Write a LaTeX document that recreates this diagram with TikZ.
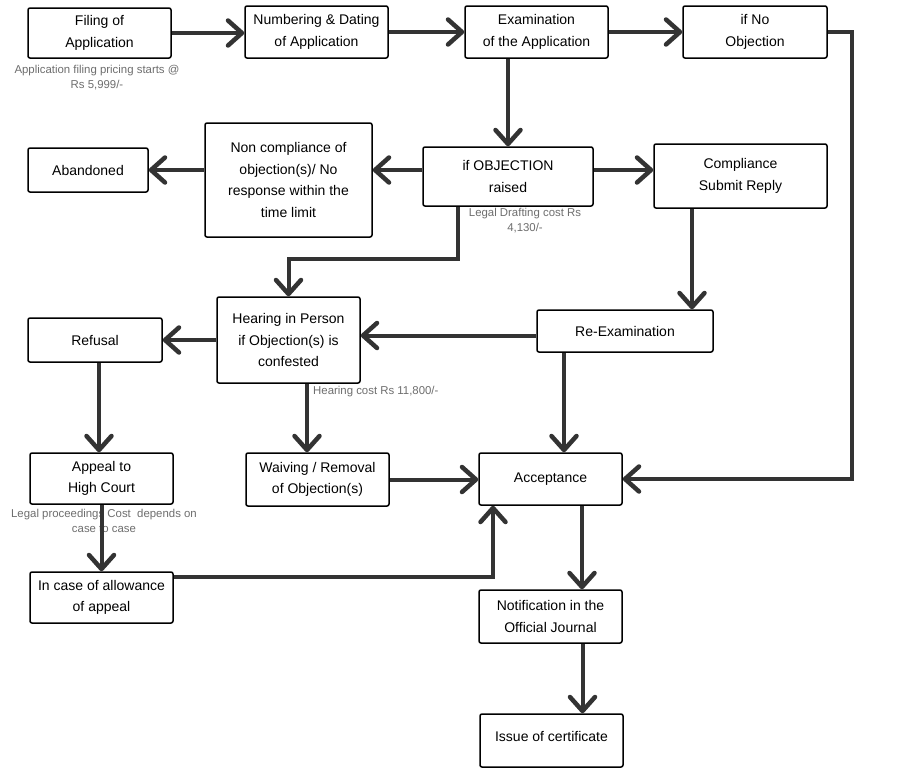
\documentclass[tikz,border=0pt]{standalone}
\usepackage{fontspec}
\setmainfont{Liberation Sans}
\usetikzlibrary{arrows.meta}
\definecolor{arrcol}{HTML}{333333}
\definecolor{notecol}{HTML}{6E6E6E}
\begin{document}
\begin{tikzpicture}[x=1pt,y=-1pt,
  box/.style={draw=black, line width=1.5pt, rounded corners=2pt, fill=white, align=center,
    inner sep=0pt, font=\fontsize{14}{21.5}\selectfont},
  note/.style={text=notecol, align=center, inner sep=0pt, font=\fontsize{11.4}{15}\selectfont},
  arr/.style={draw=arrcol, line width=4pt, -{Straight Barb[length=14pt,width=25pt,line width=4.5pt,round]}},
  ln/.style={draw=arrcol, line width=4pt}]
\useasboundingbox[fill=white] (0,0) rectangle (900,774);

% boxes
\node[box, minimum width=143, minimum height=50] (filing) at (99.5,33) {Filing of\\Application};
\node[box, minimum width=143, minimum height=52] (number) at (316.5,32) {Numbering \& Dating\\of Application};
\node[box, minimum width=143, minimum height=52] (exam) at (536.5,32) {Examination\\of the Application};
\node[box, minimum width=144, minimum height=52] (noobj) at (755,32) {if No\\Objection};
\node[box, minimum width=120, minimum height=44] (aband) at (88,170) {Abandoned};
\node[box, minimum width=167, minimum height=114] (noncomp) at (288.5,180) {Non compliance of\\objection(s)/ No\\response within the\\time limit};
\node[box, minimum width=170, minimum height=59] (objection) at (508,176.5) {if OBJECTION\\raised};
\node[box, minimum width=173, minimum height=64] (comply) at (740.5,176) {Compliance\\Submit Reply};
\node[box, minimum width=143, minimum height=86] (hearing) at (288.5,340) {Hearing in Person\\if Objection(s) is\\confested};
\node[box, minimum width=134, minimum height=44] (refusal) at (95,340) {Refusal};
\node[box, minimum width=176, minimum height=42] (reexam) at (625,331) {Re-Examination};
\node[box, minimum width=143, minimum height=52] (accept) at (550.5,479) {Acceptance};
\node[box, minimum width=143, minimum height=51] (appeal) at (101.5,478.5) {Appeal to\\High Court};
\node[box, minimum width=143, minimum height=53] (waiving) at (317.5,479.5) {Waiving / Removal\\of Objection(s)};
\node[box, minimum width=143, minimum height=51] (allow) at (101.5,597.5) {In case of allowance\\of appeal};
\node[box, minimum width=143, minimum height=53] (notif) at (550.5,616.5) {Notification in the\\Official Journal};
\node[box, minimum width=143, minimum height=53] (issue) at (551.5,740.5) {};
\node[font=\fontsize{14}{21.5}\selectfont, inner sep=0pt] (issuetxt) at (551.5,736) {Issue of certificate};

% notes
\node[note] (n1) at (97,77.5) {Application filing pricing starts @\\Rs 5,999/-};
\node[note] (n2) at (525,220.5) {Legal Drafting cost Rs\\4,130/-};
\node[note, anchor=west] (n3) at (313,392) {Hearing cost Rs 11,800/-};
\node[note] (n4) at (104,520.5) {Legal proceedings Cost\ \ depends on\\case to case};

% connectors
\draw[arr] (filing.east) -- (filing.east -| number.west);
\draw[arr] (number.east) -- (number.east -| exam.west);
\draw[arr] (exam.east) -- (exam.east -| noobj.west);
\draw[arr] (exam.south -| objection.north) -- (objection.north);
\draw[arr] ([yshift=6.5]objection.west) -- ([yshift=6.5]objection.west -| noncomp.east);
\draw[arr] (noncomp.west |- aband.east) -- (aband.east);
\draw[arr] ([yshift=6.5]objection.east) -- ([yshift=6.5]objection.east -| comply.west);
\draw[arr] ([xshift=-50]objection.south) |- ([yshift=37]hearing.north) -- (hearing.north);
\draw[arr] ([xshift=-48.5]comply.south) -- ([xshift=-48.5]comply.south |- reexam.north);
\draw[arr] ([yshift=-4.5]reexam.west) -- ([yshift=-4.5]reexam.west -| hearing.east);
\draw[arr] ([xshift=-61]reexam.south) -- ([xshift=-61]reexam.south |- accept.north);
\draw[arr] (hearing.west |- refusal.east) -- (refusal.east);
\draw[arr] ([xshift=4]refusal.south) -- ([xshift=4]refusal.south |- appeal.north);
\draw[arr] ([xshift=18.5]hearing.south) -- ([xshift=18.5]hearing.south |- waiving.north);
\draw[arr] (waiving.east) -- (waiving.east -| accept.west);
\draw[arr] (appeal.south) -- (allow.north);
\draw[arr] ([yshift=20.5]allow.east) -| ([xshift=-57.5]accept.south);
\draw[arr] ([xshift=31.5]accept.south) -- ([xshift=31.5]accept.south |- notif.north);
\draw[arr] ([xshift=32]notif.south) -- ([xshift=32]notif.south |- issue.north);
\draw[arr] (noobj.east) -- ++(24,0) |- (accept.east);
\end{tikzpicture}
\end{document}
